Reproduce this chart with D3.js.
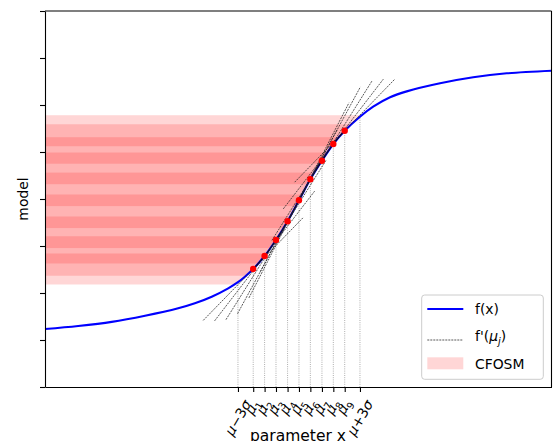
<!DOCTYPE html>
<html>
<head>
<meta charset="utf-8">
<script src="https://cdn.jsdelivr.net/npm/d3@7"></script>
<style>
  body { margin: 0; background: #fff; }
  text { font-family: "DejaVu Sans", sans-serif; }
</style>
</head>
<body>
<svg id="chart" width="554" height="441"></svg>
<script>
// f(x), x in sigma units around mu
const curveX = [-12.49, -10.86, -9.21, -7.57, -5.94, -5.12, -4.29, -3.48, -3.0, -2.66,
                -2.25, -1.69, -1.13, -0.56, 0, 0.56, 1.13, 1.69, 2.25,
                3.0, 3.65, 4.48, 5.30, 6.94, 8.57, 10.22, 12.42];
const curveY = [1.234, 1.298, 1.385, 1.515, 1.674, 1.781, 1.921, 2.100, 2.23, 2.347,
                2.511, 2.787, 3.128, 3.526, 3.972, 4.419, 4.815, 5.170, 5.453,
                5.751, 5.964, 6.164, 6.290, 6.462, 6.589, 6.674, 6.73];

// linearisation points mu_1..mu_9
const muX = [-2.25, -1.69, -1.13, -0.56, 0, 0.56, 1.13, 1.69, 2.25];
const muY = [2.511, 2.787, 3.128, 3.526, 3.972, 4.419, 4.815, 5.170, 5.453];
const muSlope = [0.445, 0.561, 0.689, 0.799, 0.844, 0.799, 0.689, 0.561, 0.445];
const bandHalf = [0.33, 0.42, 0.50, 0.57, 0.59, 0.57, 0.50, 0.42, 0.33];
const tangentHalf = 2.46;

// x ticks and where their guide lines meet the curve
const tickX = [-3, -2.25, -1.69, -1.13, -0.56, 0, 0.56, 1.13, 1.69, 2.25, 3];
const tickTop = [2.23, 2.511, 2.787, 3.128, 3.526, 3.972, 4.419, 4.815, 5.170, 5.453, 5.751];
const tickLabels = ["μ-3σ", "μ1", "μ2", "μ3", "μ4", "μ5", "μ6", "μ7", "μ8", "μ9", "μ+3σ"];
const yTicks = [0, 1, 2, 3, 4, 5, 6, 7, 8];

const fs = 13.9;
const svg = d3.select("#chart");
const x = d3.scaleLinear().domain([-12.49, 12.42]).range([45, 551.5]);
const y = d3.scaleLinear().domain([0, 8]).range([387, 11]);
const pts = curveX.map((v, i) => [v, curveY[i]]);
const smooth = d3.curveCatmullRom.alpha(0.5);
const line = d3.line().x(d => x(d[0])).y(d => y(d[1])).curve(smooth);

// region above the curve, used to clip the CFOSM bands
svg.append("defs").append("clipPath").attr("id", "above")
  .append("path")
  .attr("d", d3.area().x(d => x(d[0])).y0(y(8)).y1(d => y(d[1])).curve(smooth)(pts));

svg.append("g").attr("clip-path", "url(#above)")
  .selectAll("rect")
  .data(muY)
  .enter()
  .append("rect")
  .attr("x", x(-12.49))
  .attr("width", x(12.42) - x(-12.49))
  .attr("y", (d, i) => y(d + bandHalf[i]))
  .attr("height", (d, i) => y(d - bandHalf[i]) - y(d + bandHalf[i]))
  .attr("fill", "#ff0000")
  .attr("fill-opacity", 0.16);

// dotted guides from the axis up to the curve
svg.append("g").selectAll("line")
  .data(tickX)
  .enter()
  .append("line")
  .attr("x1", d => x(d)).attr("x2", d => x(d))
  .attr("y1", y(0))
  .attr("y2", (d, i) => y(tickTop[i]))
  .attr("stroke", "#999")
  .attr("stroke-width", 0.8)
  .attr("stroke-dasharray", "1,1.2");

svg.append("path")
  .attr("d", line(pts))
  .attr("fill", "none")
  .attr("stroke", "#0000ff")
  .attr("stroke-width", 2.1);

svg.append("path")
  .attr("d", line(pts.filter(d => d[0] >= muX[0] && d[0] <= muX[8])))
  .attr("fill", "none")
  .attr("stroke", "#000")
  .attr("stroke-width", 1.2)
  .attr("stroke-opacity", 0.85);

// tangents f'(mu_j)
svg.append("g").selectAll("line")
  .data(muX)
  .enter()
  .append("line")
  .attr("x1", d => x(d - tangentHalf))
  .attr("x2", d => x(d + tangentHalf))
  .attr("y1", (d, i) => y(muY[i] - muSlope[i] * tangentHalf))
  .attr("y2", (d, i) => y(muY[i] + muSlope[i] * tangentHalf))
  .attr("stroke", "#222")
  .attr("stroke-width", 0.75)
  .attr("stroke-dasharray", "2,1");

svg.append("g").selectAll("circle")
  .data(muX)
  .enter()
  .append("circle")
  .attr("cx", d => x(d))
  .attr("cy", (d, i) => y(muY[i]))
  .attr("r", 3.2)
  .attr("fill", "#ff0000");

// axes
const axL = svg.append("g").attr("transform", "translate(45,0)")
  .call(d3.axisLeft(y).tickValues(yTicks).tickFormat("").tickSize(5).tickSizeOuter(0));
const axB = svg.append("g").attr("transform", "translate(0,387)")
  .call(d3.axisBottom(x).tickValues(tickX).tickFormat("").tickSize(5).tickSizeOuter(0));
[axL, axB].forEach(a => a.selectAll("path,line").attr("stroke", "#000").attr("stroke-width", 1.1));
svg.append("line").attr("x1", 45).attr("x2", 551.5).attr("y1", 11).attr("y2", 11)
  .attr("stroke", "#000").attr("stroke-width", 1.1);
svg.append("line").attr("x1", 551.5).attr("x2", 551.5).attr("y1", 11).attr("y2", 387)
  .attr("stroke", "#000").attr("stroke-width", 1.1);

function mathText(t, s) {
  let prev = "";
  for (const ch of s) {
    if (ch === "μ" || ch === "σ" || ch === "j" && prev === "μ") {
      if (ch === "j") {
        t.append("tspan").attr("font-size", fs * 0.7).attr("dy", 4).attr("font-style", "italic").text(ch);
        prev = "sub";
        continue;
      }
      t.append("tspan").attr("font-style", "italic").text(ch);
    } else if (/\d/.test(ch) && prev === "μ") {
      t.append("tspan").attr("font-size", fs * 0.7).attr("dy", 4).text(ch);
      prev = "sub";
      continue;
    } else {
      const sp = t.append("tspan").text(ch === "-" ? "−" : ch);
      if (prev === "sub") sp.attr("dy", -4);
    }
    prev = ch;
  }
}

// rotated tick labels, bbox centred on tick like matplotlib
const rot = 60, rad = rot * Math.PI / 180;
tickLabels.forEach((s, i) => {
  const t = svg.append("text").attr("font-size", fs).attr("fill", "#000");
  mathText(t, s);
  const b = t.node().getBBox();
  const L = b.width, h = b.height * 0.8;
  const H = L * Math.sin(rad) + h * Math.cos(rad);
  const cx = x(tickX[i]), cy = 397 + H / 2;
  t.attr("transform", `translate(${cx},${cy}) rotate(${-rot}) translate(${-b.x - b.width / 2},${-b.y - b.height / 2})`);
});

svg.append("text").attr("x", 298).attr("y", 441).attr("text-anchor", "middle")
  .attr("font-size", 15.5).text("parameter x");
svg.append("text").attr("transform", "translate(28,199) rotate(-90)").attr("text-anchor", "middle")
  .attr("font-size", fs).text("model");

// legend
const lg = svg.append("g");
lg.append("rect").attr("x", 421.7).attr("y", 295).attr("width", 121.6).attr("height", 84.3)
  .attr("rx", 3).attr("fill", "#fff").attr("fill-opacity", 0.8)
  .attr("stroke", "#ccc").attr("stroke-width", 1);
lg.append("line").attr("x1", 427.3).attr("x2", 463.3).attr("y1", 309).attr("y2", 309)
  .attr("stroke", "#0000ff").attr("stroke-width", 2.1);
lg.append("line").attr("x1", 427.3).attr("x2", 463.3).attr("y1", 340).attr("y2", 340)
  .attr("stroke", "#222").attr("stroke-width", 0.75).attr("stroke-dasharray", "2,1");
lg.append("rect").attr("x", 427.3).attr("y", 357.3).attr("width", 36).attr("height", 12)
  .attr("fill", "#ff0000").attr("fill-opacity", 0.16);
lg.append("text").attr("x", 475).attr("y", 314).attr("font-size", fs).text("f(x)");
mathText(lg.append("text").attr("x", 475).attr("y", 341).attr("font-size", fs), "f'(μj)");
lg.append("text").attr("x", 475).attr("y", 368.5).attr("font-size", fs).text("CFOSM");
</script>
</body>
</html>
